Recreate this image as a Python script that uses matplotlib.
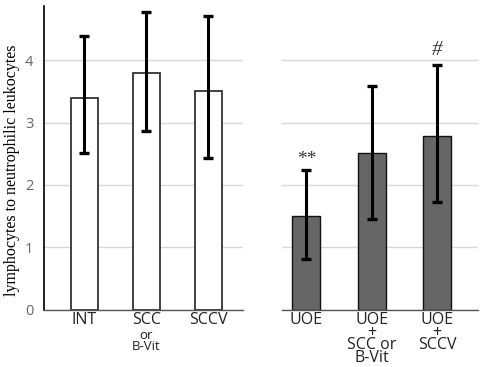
import matplotlib
matplotlib.use("Agg")
import matplotlib.pyplot as plt

# Data
left_labels = ["INT", "SCC", "SCCV"]
left_means = [3.40, 3.80, 3.51]
left_err_hi = [4.39, 4.78, 4.71]
left_err_lo = [2.51, 2.87, 2.43]

right_labels = ["UOE", "UOE\n+\nSCC or\nB-Vit", "UOE\n+\nSCCV"]
right_means = [1.50, 2.51, 2.79]
right_err_hi = [2.24, 3.59, 3.92]
right_err_lo = [0.82, 1.45, 1.73]

yticks = [0, 1, 2, 3, 4]
ylabel = "lymphocytes to neutrophilic leukocytes"

W, H = 485, 367
fig = plt.figure(figsize=(W / 100, H / 100), dpi=100)

sans = ["Open Sans", "DejaVu Sans"]
serif = ["Liberation Serif", "DejaVu Serif"]
ytop = 4.87

def fx(px):
    return px / W

def fy(py):
    return 1 - py / H

axL = fig.add_axes([fx(44.5), fy(309.7), fx(243 - 44.5), fy(6) - fy(309.7)])
axR = fig.add_axes([fx(282), fy(309.7), fx(478 - 282), fy(6) - fy(309.7)])

for ax in (axL, axR):
    ax.set_ylim(0, ytop)
    ax.set_yticks(yticks)
    ax.grid(axis="y", color="#d8d8d8", linewidth=1.0)
    ax.set_axisbelow(True)
    for s in ("top", "right"):
        ax.spines[s].set_visible(False)
    ax.spines["bottom"].set_color("#555555")
    ax.spines["bottom"].set_linewidth(1.0)
    ax.tick_params(axis="x", length=0, pad=2)
    ax.tick_params(axis="y", length=0)

# Left panel
xL = list(range(len(left_labels)))
axL.set_xlim(-0.64, 2.56)
errL = [[m - lo for m, lo in zip(left_means, left_err_lo)],
        [hi - m for m, hi in zip(left_means, left_err_hi)]]
axL.bar(xL, left_means, width=0.44, color="white", edgecolor="#333333", linewidth=1.3,
        yerr=errL, error_kw=dict(ecolor="black", elinewidth=2.2, capsize=3.8, capthick=2.4))
axL.spines["left"].set_color("black")
axL.spines["left"].set_linewidth(1.2)
axL.set_xticks(xL)
axL.set_xticklabels(left_labels, fontsize=11.5, family=sans, color="#222222")
axL.set_yticklabels([str(t) for t in yticks], fontsize=10.5, family=sans, color="#666666")
axL.tick_params(axis="y", pad=8)
axL.annotate("or\nB-Vit", xy=(xL[1], 0), xycoords=("data", "axes fraction"),
             xytext=(0, -14), textcoords="offset points", ha="center", va="top",
             fontsize=9.5, family=sans, color="#222222", linespacing=0.8)

# Right panel
xR = list(range(len(right_labels)))
axR.set_xlim(-0.375, 2.63)
errR = [[m - lo for m, lo in zip(right_means, right_err_lo)],
        [hi - m for m, hi in zip(right_means, right_err_hi)]]
axR.bar(xR, right_means, width=0.43, color="#666666", edgecolor="#111111", linewidth=1.0,
        yerr=errR, error_kw=dict(ecolor="black", elinewidth=2.2, capsize=3.8, capthick=2.4))
axR.spines["left"].set_visible(False)
axR.set_yticklabels([])
axR.set_xticks(xR)
axR.set_xticklabels(right_labels, fontsize=11.5, family=sans, color="#222222", linespacing=0.7)

# Significance marks
axR.text(xR[0], 2.41, "**", ha="center", va="center", fontsize=14, family=serif, color="#333333")
axR.text(xR[2], 4.16, "#", ha="center", va="center", fontsize=15, family=serif, color="#333333",
         style="italic")

fig.text(fx(12), fy(170), ylabel, rotation=90, ha="center", va="center",
         fontsize=11.5, family=serif, color="black")

fig.savefig("out.png", dpi=100)
